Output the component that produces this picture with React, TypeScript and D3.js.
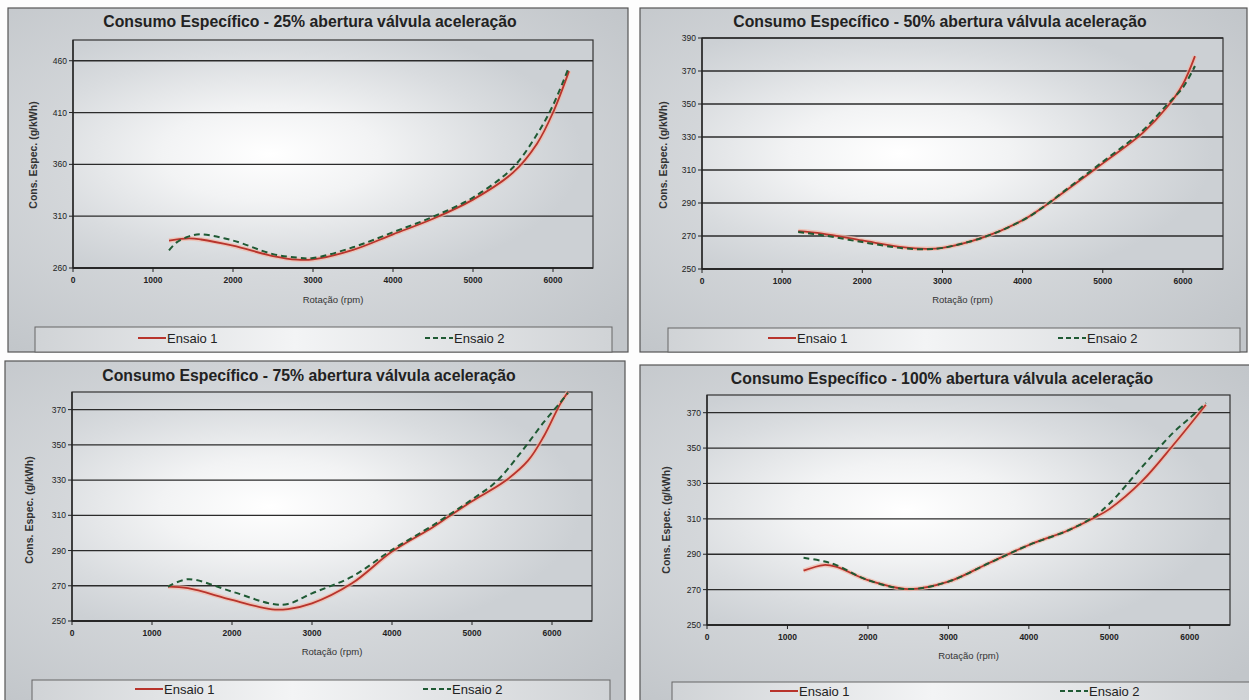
import React from "react";
import * as d3 from "d3";

// ---------- DATA ----------
const xTicks = [0, 1000, 2000, 3000, 4000, 5000, 6000];

const titles = [
  "Consumo Específico - 25% abertura válvula aceleração",
  "Consumo Específico - 50% abertura válvula aceleração",
  "Consumo Específico - 75% abertura válvula aceleração",
  "Consumo Específico - 100% abertura válvula aceleração",
];
const seriesNames = ["Ensaio 1", "Ensaio 2"];

// 25%
const rpm25a = [1200, 1450, 1600, 2000, 2500, 2800, 3000, 3500, 4000, 4500, 5000, 5500, 5800, 6000, 6200];
const cons25a = [286.5, 288.5, 287.5, 281.5, 271.5, 268, 268.3, 277.5, 292.5, 307.5, 326, 352, 380, 410, 450];
const rpm25b = [1200, 1300, 1450, 1600, 2000, 2500, 2800, 3000, 3500, 4000, 4500, 5000, 5500, 5800, 6000, 6200];
const cons25b = [277, 285, 290.5, 292.5, 286.5, 273.4, 270, 269.6, 280, 294.5, 309.5, 328, 357, 389, 417, 454];
const yTicks25 = [260, 310, 360, 410, 460];

// 50%
const rpm50 = [1200, 1500, 2000, 2500, 2800, 3000, 3500, 4000, 4300, 4500, 5000, 5500, 5800, 6000, 6150];
const cons50a = [273, 271.5, 267.3, 263.2, 262.2, 262.8, 269, 279.5, 289, 296, 314, 332.5, 348, 362, 379];
const cons50b = [272.4, 270.5, 266.3, 262.6, 262, 262.8, 269, 279.5, 289, 296.5, 315, 334, 349.5, 360, 373];
const yTicks50 = [250, 270, 290, 310, 330, 350, 370, 390];

// 75%
const rpm75a = [1200, 1450, 2000, 2500, 2700, 3000, 3500, 4000, 4500, 4700, 5000, 5400, 5700, 5900, 6100, 6200];
const cons75a = [269.5, 268.6, 262, 256.6, 256.8, 260, 271.4, 289.4, 303, 309, 318, 329, 341, 355, 373, 380];
const rpm75b = [1200, 1450, 2000, 2500, 2700, 3000, 3500, 4000, 4500, 5000, 5300, 5600, 5900, 6100, 6200];
const cons75b = [269.5, 273.7, 266.7, 259.7, 259.7, 265.7, 275.2, 290.4, 304, 319, 329, 345, 363, 373.8, 379.5];
const yTicks75 = [250, 270, 290, 310, 330, 350, 370];

// 100%
const rpm100a = [1200, 1450, 1600, 2000, 2500, 3000, 3500, 4000, 4500, 4800, 5000, 5400, 5800, 6200];
const cons100a = [280.7, 283.9, 283, 275.4, 270.3, 274.5, 284.9, 295.2, 303.7, 310.3, 315.5, 331, 352, 374.5];
const rpm100b = [1200, 1450, 1600, 2000, 2500, 3000, 3500, 4000, 4500, 4800, 5000, 5400, 5800, 6000, 6200];
const cons100b = [288, 286, 284, 275.4, 270.3, 274.5, 284.9, 295.2, 303.7, 311, 318.5, 339, 359, 367, 375.5];
const yTicks100 = [250, 270, 290, 310, 330, 350, 370];

// ---------- LAYOUT ----------
type Panel = {
  title: string;
  frame: [number, number, number, number];
  plot: [number, number, number, number]; // left, top, right, bottom
  yDomain: [number, number];
  yTicks: number[];
  titleX: number;
  titleY: number;
  yTitle: [number, number];
  xTitleY: number;
  legend: [number, number, number, number];
  leg1: number;
  leg2: number;
  legY: number;
  s1: [number[], number[]];
  s2: [number[], number[]];
};

const panels: Panel[] = [
  {
    title: titles[0], frame: [8, 8, 628, 352], plot: [73, 40, 593, 268],
    yDomain: [260, 480], yTicks: yTicks25, titleX: 310, titleY: 27, yTitle: [37, 155], xTitleY: 303,
    legend: [35, 327, 612, 352], leg1: 138, leg2: 425, legY: 338,
    s1: [rpm25a, cons25a], s2: [rpm25b, cons25b],
  },
  {
    title: titles[1], frame: [640, 8, 1247, 352], plot: [702, 38, 1223, 269],
    yDomain: [250, 390], yTicks: yTicks50, titleX: 940, titleY: 27, yTitle: [667, 155], xTitleY: 303,
    legend: [668, 328, 1240, 352], leg1: 768, leg2: 1058, legY: 338,
    s1: [rpm50, cons50a], s2: [rpm50, cons50b],
  },
  {
    title: titles[2], frame: [5, 361, 625, 705], plot: [72, 392, 592, 621],
    yDomain: [250, 380], yTicks: yTicks75, titleX: 309, titleY: 381, yTitle: [33, 510], xTitleY: 655,
    legend: [32, 680, 610, 705], leg1: 135, leg2: 423, legY: 689,
    s1: [rpm75a, cons75a], s2: [rpm75b, cons75b],
  },
  {
    title: titles[3], frame: [640, 365, 1252, 705], plot: [707, 395, 1230, 625],
    yDomain: [250, 380], yTicks: yTicks100, titleX: 942, titleY: 384, yTitle: [670, 520], xTitleY: 659,
    legend: [672, 682, 1252, 705], leg1: 770, leg2: 1060, legY: 691,
    s1: [rpm100a, cons100a], s2: [rpm100b, cons100b],
  },
];

const FONT = "'Liberation Sans', Arial, sans-serif";
const RED = "#b8342c";
const GREEN = "#1f5a34";

function ChartPanel({ p, i }: { p: Panel; i: number }) {
  const [l, t, r, b] = p.plot;
  const x = d3.scaleLinear().domain([0, 6500]).range([l, r]);
  const y = d3.scaleLinear().domain(p.yDomain).range([b, t]);
  const line = d3
    .line<[number, number]>()
    .x((d) => x(d[0]))
    .y((d) => y(d[1]))
    .curve(d3.curveCatmullRom.alpha(0.5));
  const pts1 = p.s1[0].map((v, k) => [v, p.s1[1][k]] as [number, number]);
  const pts2 = p.s2[0].map((v, k) => [v, p.s2[1][k]] as [number, number]);
  const [fx0, fy0, fx1, fy1] = p.frame;
  const [lx0, ly0, lx1, ly1] = p.legend;
  const cx = (l + r) / 2;
  return (
    <g>
      <rect x={fx0} y={fy0} width={fx1 - fx0} height={fy1 - fy0} fill={`url(#fg${i})`} stroke="#555" strokeWidth={1.2} />
      <rect x={l} y={t} width={r - l} height={b - t} fill={`url(#pg${i})`} stroke="#333" strokeWidth={1.2} />
      {p.yTicks.map((v) => (
        <line key={"g" + v} x1={l} x2={r} y1={y(v)} y2={y(v)} stroke="#2b2b2b" strokeWidth={1.3} />
      ))}
      <line x1={l} x2={l} y1={t} y2={b} stroke="#222" strokeWidth={1.3} />
      <line x1={l} x2={r} y1={b} y2={b} stroke="#222" strokeWidth={1.3} />
      {p.yTicks.map((v) => (
        <g key={"y" + v}>
          <line x1={l - 4} x2={l} y1={y(v)} y2={y(v)} stroke="#222" />
          <text x={l - 6} y={y(v) + 3} textAnchor="end" fontSize={8.5} fontFamily={FONT} fill="#222">
            {v}
          </text>
        </g>
      ))}
      {xTicks.map((v) => (
        <g key={"x" + v}>
          <line x1={x(v)} x2={x(v)} y1={b} y2={b + 4} stroke="#222" />
          <text x={x(v)} y={b + 15} textAnchor="middle" fontSize={8.5} fontWeight="bold" fontFamily={FONT} fill="#222">
            {v}
          </text>
        </g>
      ))}
      <text x={p.titleX} y={p.titleY} textAnchor="middle" fontSize={15.8} fontWeight="bold" fontFamily={FONT} fill="#222">
        {p.title}
      </text>
      <text
        transform={`translate(${p.yTitle[0]},${p.yTitle[1]}) rotate(-90)`}
        textAnchor="middle"
        fontSize={10.5}
        fontWeight="bold"
        fontFamily={FONT}
        fill="#333"
      >
        Cons. Espec. (g/kWh)
      </text>
      <text x={cx} y={p.xTitleY} textAnchor="middle" fontSize={9.5} fontFamily={FONT} fill="#333">
        Rotação (rpm)
      </text>
      {/* curves */}
      <path d={line(pts1) || ""} fill="none" stroke="#f2b8a6" strokeOpacity={0.7} strokeWidth={4.5} />
      <path d={line(pts1) || ""} fill="none" stroke={RED} strokeWidth={1.8} />
      <path d={line(pts2) || ""} fill="none" stroke={GREEN} strokeWidth={2} strokeDasharray="6,4" />
      {/* legend */}
      <rect x={lx0} y={ly0} width={lx1 - lx0} height={ly1 - ly0} fill={`url(#lg${i})`} stroke="#666" strokeWidth={1} />
      <line x1={p.leg1} x2={p.leg1 + 28} y1={p.legY} y2={p.legY} stroke={RED} strokeWidth={2} />
      <text x={p.leg1 + 29} y={p.legY + 5} fontSize={13} fontFamily={FONT} fill="#222">
        {seriesNames[0]}
      </text>
      <line x1={p.leg2} x2={p.leg2 + 28} y1={p.legY} y2={p.legY} stroke={GREEN} strokeWidth={2} strokeDasharray="5,3" />
      <text x={p.leg2 + 29} y={p.legY + 5} fontSize={13} fontFamily={FONT} fill="#222">
        {seriesNames[1]}
      </text>
    </g>
  );
}

export default function App() {
  return (
    <svg
      width={1249}
      height={700}
      style={{ position: "absolute", left: 0, top: 0, background: "#fdfdfd" }}
    >
      <defs>
        {panels.map((_, i) => (
          <React.Fragment key={i}>
            <radialGradient id={`fg${i}`} cx="0.45" cy="0.45" r="0.7">
              <stop offset="0" stopColor="#f4f5f6" />
              <stop offset="0.45" stopColor="#d6d9dc" />
              <stop offset="1" stopColor="#c2c6ca" />
            </radialGradient>
            <radialGradient id={`pg${i}`} cx="0.38" cy="0.5" r="0.6">
              <stop offset="0" stopColor="#ffffff" />
              <stop offset="0.35" stopColor="#f2f3f4" />
              <stop offset="0.75" stopColor="#d9dcdf" />
              <stop offset="1" stopColor="#ccd0d4" />
            </radialGradient>
            <linearGradient id={`lg${i}`} x1="0" x2="1" y1="0" y2="0">
              <stop offset="0" stopColor="#d0d3d6" />
              <stop offset="0.45" stopColor="#f3f4f5" />
              <stop offset="1" stopColor="#d0d3d6" />
            </linearGradient>
          </React.Fragment>
        ))}
      </defs>
      {panels.map((p, i) => (
        <ChartPanel key={i} p={p} i={i} />
      ))}
    </svg>
  );
}
